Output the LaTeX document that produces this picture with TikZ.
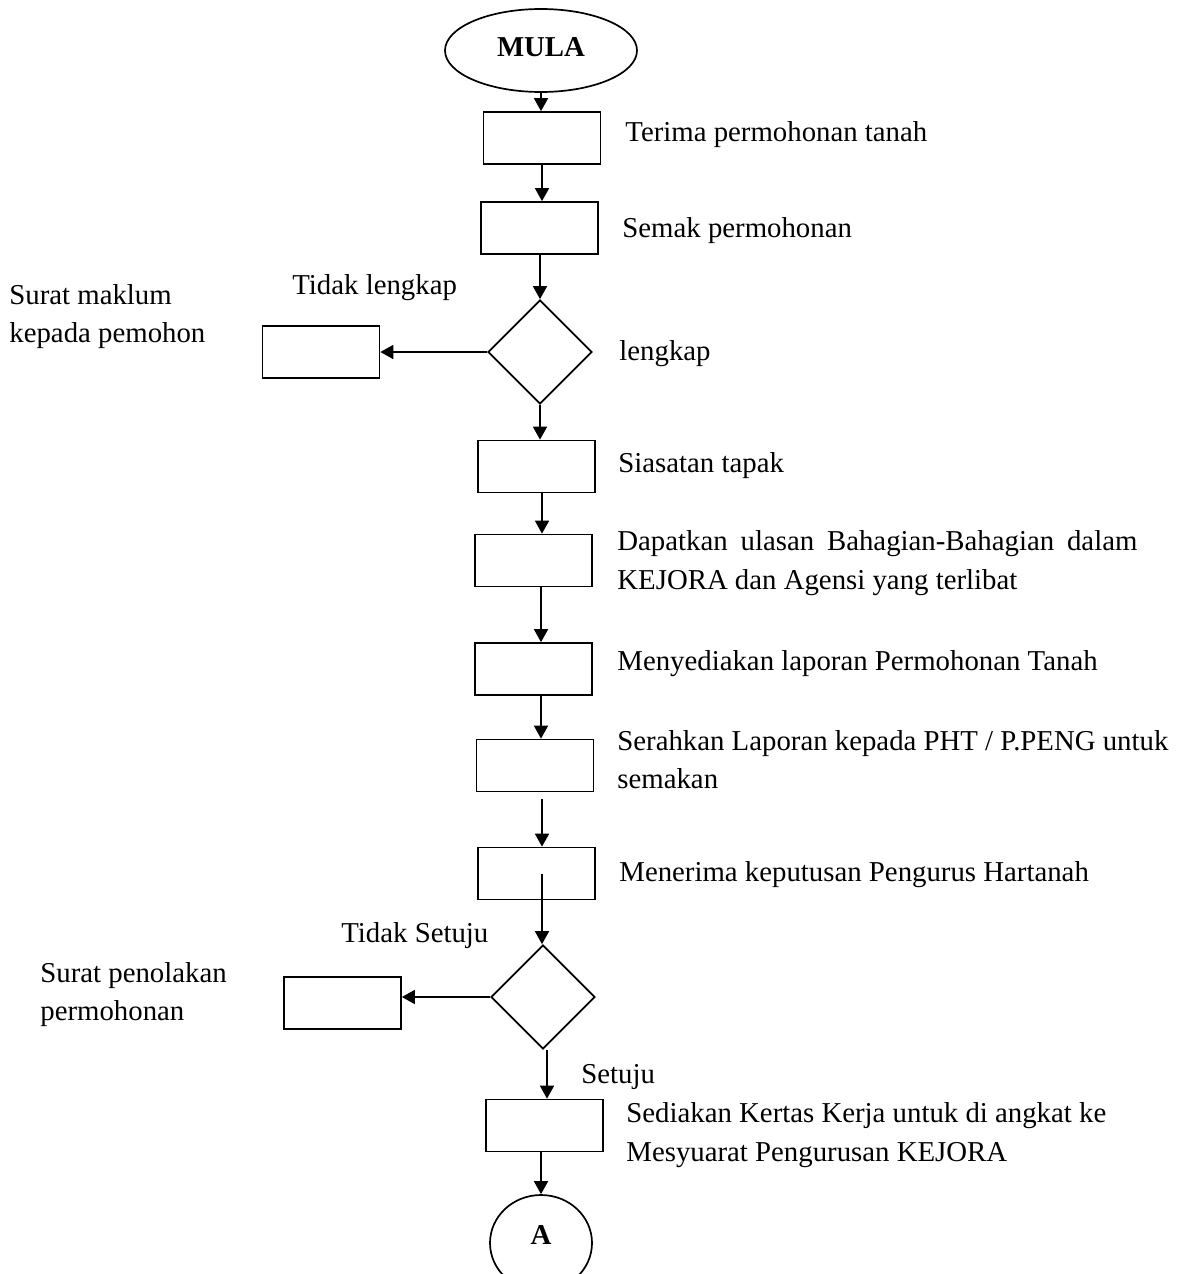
\documentclass[tikz,border=0pt]{standalone}
\usepackage{fontspec}
\setmainfont{Liberation Serif}
\usetikzlibrary{arrows.meta,shapes.geometric}
\begin{document}
\begin{tikzpicture}[x=0.5pt,y=-0.5pt,
  every node/.style={font=\fontsize{14.4}{19}\selectfont},
  box/.style={draw,line width=0.85pt,rectangle,minimum width=58.5pt,minimum height=26pt,inner sep=0pt},
  dec/.style={draw,line width=0.85pt,diamond,aspect=1,minimum width=52pt,minimum height=52pt,inner sep=0pt},
  term/.style={draw,line width=0.85pt,ellipse,inner sep=0pt},
  lbl/.style={anchor=base west,inner sep=0pt},
  arr/.style={line width=0.85pt,-{Triangle[length=6.5pt,width=7pt]}}]
\useasboundingbox (0,0) rectangle (1179,1274);
\clip (0,0) rectangle (1179,1274);
% terminals
\node[term,minimum width=96pt,minimum height=41.5pt] (mula) at (541,50.5) {};
\node[anchor=base,inner sep=0pt,font=\fontsize{14.4}{19}\selectfont\bfseries] (mulatext) at (541,56) {MULA};
\node[term,minimum width=51pt,minimum height=48pt] (A) at (541,1243) {};
\node[anchor=base,inner sep=0pt,font=\fontsize{14.4}{19}\selectfont\bfseries] (Atext) at (541,1244) {A};
% boxes
\node[box] (b1) at (542,138) {};
\node[box] (b2) at (539.5,228) {};
\node[dec] (d1) at (540,352) {};
\node[box] (l1) at (321,352) {};
\node[box] (b3) at (536.5,466.5) {};
\node[box] (b4) at (533.5,560.5) {};
\node[box] (b5) at (533.5,669) {};
\node[box] (b6) at (535,765.5) {};
\node[box] (b7) at (536.5,873.5) {};
\node[dec] (d2) at (543,997) {};
\node[box] (l2) at (342.5,1003) {};
\node[box] (b8) at (544.5,1125.5) {};
% connectors
\draw[arr] (mula.south) -- (mula.south |- b1.north);
\draw[arr] (b1.south) -- (b1.south |- b2.north);
\draw[arr] (d1.north |- b2.south) -- (d1.north);
\draw[arr] (d1.west) -- (d1.west -| l1.east);
\draw[arr] (d1.south) -- (d1.south |- b3.north);
\draw[arr] (b1.south |- b3.south) -- (b1.south |- b4.north);
\draw[arr] (mula.south |- b4.south) -- (mula.south |- b5.north);
\draw[arr] (mula.south |- b5.south) -- (mula.south |- b6.north);
\draw[arr,shorten <=3.5pt] (b1.south |- b6.south) -- (b1.south |- b7.north);
\draw[arr] ([xshift=-0.5pt]d2.north |- b7.center) -- ([xshift=-0.5pt]d2.north);
\draw[arr] (d2.west) -- (d2.west -| l2.east);
\draw[arr] ([xshift=2pt]d2.south) -- ([xshift=2pt]d2.south |- b8.north);
\draw[arr] (A.north |- b8.south) -- (A.north);
% labels
\node[lbl] (t1) at (625,141) {Terima permohonan tanah};
\node[lbl] (t2) at (622,237) {Semak permohonan};
\node[lbl] (tl) at (619,360) {lengkap};
\node[lbl] (ttl) at (292,294) {Tidak lengkap};
\node[lbl] (ts1) at (9,304) {Surat maklum};
\node[lbl] (ts2) at (9,342) {kepada pemohon};
\node[lbl] (t3) at (618,472) {Siasatan tapak};
\node[lbl] (t4a) at (617,550) {\makebox[260pt][s]{Dapatkan ulasan Bahagian-Bahagian dalam}};
\node[lbl] (t4b) at (617,589) {KEJORA dan Agensi yang terlibat};
\node[lbl] (t5) at (617,670) {Menyediakan laporan Permohonan Tanah};
\node[lbl] (t6a) at (617,750) {\makebox[275.5pt][s]{Serahkan Laporan kepada PHT / P.PENG untuk}};
\node[lbl] (t6b) at (617,788) {semakan};
\node[lbl] (t7) at (619,881) {Menerima keputusan Pengurus Hartanah};
\node[lbl] (tts) at (341,942) {Tidak Setuju};
\node[lbl] (tp1) at (40,982) {Surat penolakan};
\node[lbl] (tp2) at (40,1020) {permohonan};
\node[lbl] (tsj) at (581,1083) {Setuju};
\node[lbl] (t8a) at (626,1122) {Sediakan Kertas Kerja untuk di angkat ke};
\node[lbl] (t8b) at (626,1161) {Mesyuarat Pengurusan KEJORA};
\end{tikzpicture}
\end{document}
